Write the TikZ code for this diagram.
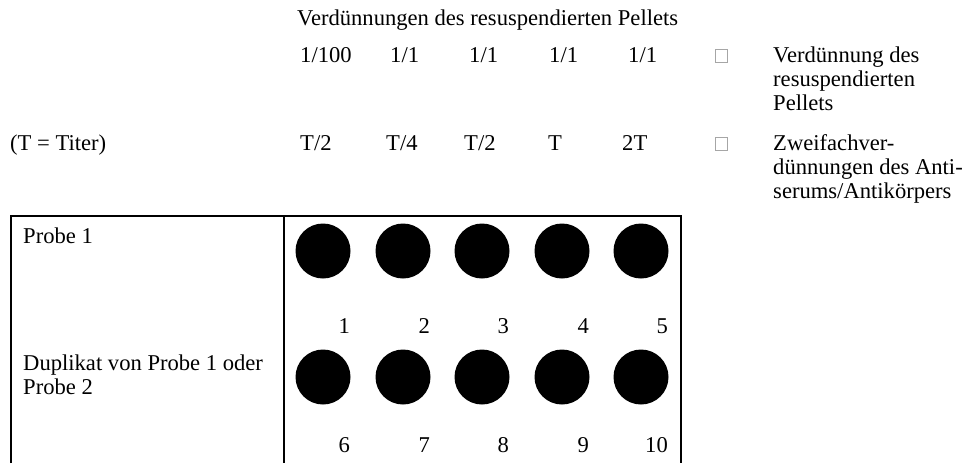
\documentclass[tikz,border=0pt]{standalone}
\usepackage{fontspec}
\setmainfont{Liberation Serif}
\usetikzlibrary{positioning}

\begin{document}
\begin{tikzpicture}[
  x=1pt,y=-1pt,
  every node/.style={font=\fontsize{22.6}{24}\selectfont},
  txt/.style={anchor=base west,inner sep=0pt,align=left},
  well/.style={circle,fill=black,minimum size=55pt,inner sep=0pt},
  num/.style={anchor=base east,inner sep=0pt},
  glyph/.style={draw=black!35,line width=0.6pt,minimum width=12pt,
                minimum height=13pt,inner sep=0pt},
  frame/.style={line width=2pt}
]
\useasboundingbox (0,0) rectangle (973,463);
\node[txt] (title) at (297,25) {Verdünnungen des resuspendierten Pellets};
% dilutions of the pellet
\node[txt] (d1) at (300,62) {1/100};
\node[txt] (d2) at (390,62) {1/1};
\node[txt] (d3) at (469,62) {1/1};
\node[txt] (d4) at (549,62) {1/1};
\node[txt] (d5) at (628,62) {1/1};
\node[glyph] (g1) at (721,55.5) {};
\node[txt] (dlabel) at (773,110) {Verdünnung des\\resuspendierten\\Pellets};
% titer row
\node[txt] (tnote) at (10,150) {(T = Titer)};
\node[txt] (t1) at (300,150) {T/2};
\node[txt] (t2) at (386,150) {T/4};
\node[txt] (t3) at (464,150) {T/2};
\node[txt] (t4) at (548,150) {T};
\node[txt] (t5) at (622,150) {2T};
\node[glyph] (g2) at (721,143.5) {};
\node[txt] (tlabel) at (773,198) {Zweifachver-\\dünnungen des Anti-\\serums/Antikörpers};
% plate
\draw[frame] (11,463) -- (11,216) -- (681,216) -- (681,463);
\draw[frame] (284,216) -- (284,463);
\node[txt] (probe1) at (23,243) {Probe 1};
\node[txt] (probe2) at (23,394) {Duplikat von Probe 1 oder\\Probe 2};
\foreach \x [count=\i] in {323,403,482,562,641} {
  \pgfmathtruncatemacro\j{\i+5}
  \node[well] (a\i) at (\x,251) {};
  \node[num] (na\i) at (\x+27,333) {\i};
  \node[well] (b\i) at (\x,377) {};
  \node[num] (nb\i) at (\x+27,452) {\j};
}
\end{tikzpicture}
\end{document}
